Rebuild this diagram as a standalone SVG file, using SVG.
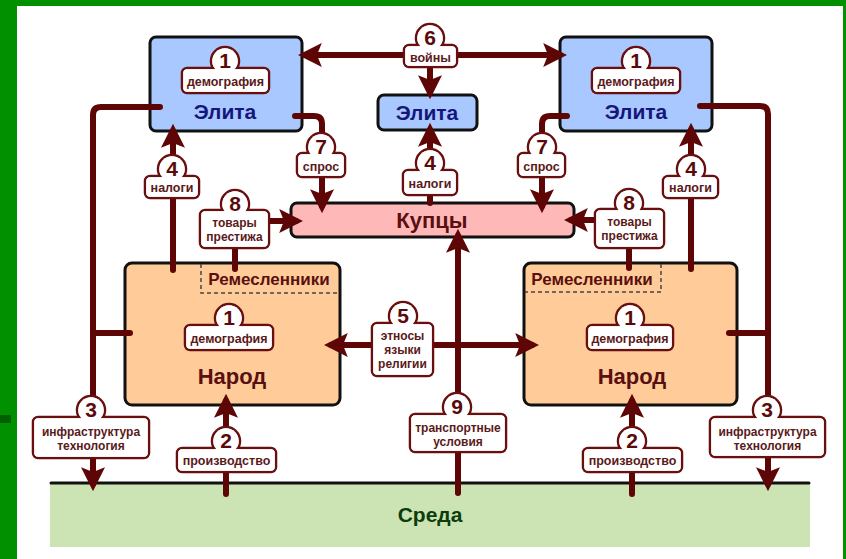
<svg xmlns="http://www.w3.org/2000/svg" width="846" height="559" viewBox="0 0 846 559">
<defs>
<style>
.box{stroke:#111;stroke-width:3}
.elite{fill:#a8c8ff}
.kup{fill:#ffb8b8}
.nar{fill:#ffcc99}
.ttl{font-family:"Liberation Sans",Arial,sans-serif;font-weight:bold;text-anchor:middle}
.te{fill:#15157a;font-size:21px}
.tm{fill:#5a1010;font-size:22px}
.tr{fill:#5a1010;font-size:17px}
.ts{fill:#0d3d0d;font-size:21px}
.dash{fill:none;stroke:#444;stroke-width:1.5;stroke-dasharray:4 3}
.con{fill:none;stroke:#5e0505;stroke-width:6;stroke-linecap:round;stroke-linejoin:round}
.bo{fill:#fff;stroke:#6a0f0f;stroke-width:2.5}
.bf{fill:#fff;stroke:none}
.num{font-family:"Liberation Sans",Arial,sans-serif;font-weight:bold;font-size:21px;fill:#5a0a0a;text-anchor:middle}
.lbl{font-family:"Liberation Sans",Arial,sans-serif;font-weight:bold;font-size:12.5px;fill:#5a1a1a;text-anchor:middle}
.lb2{font-family:"Liberation Sans",Arial,sans-serif;font-weight:bold;font-size:12px;fill:#5a1a1a;text-anchor:middle}
</style>
<marker id="ah" markerUnits="userSpaceOnUse" markerWidth="24" markerHeight="24" viewBox="0 0 20 20" refX="14" refY="10" orient="auto-start-reverse">
<path d="M0,0 L20,10 L0,20 L4,10 z" fill="#5e0505"/>
</marker>
</defs>
<rect x="0" y="0" width="846" height="559" fill="#009000"/>
<rect x="17" y="6" width="826" height="553" fill="#fff"/>
<rect x="0" y="415" width="11" height="8" fill="#006000"/>

<g id="sreda">
<rect x="50" y="484" width="760" height="63" fill="#cce3b3"/>
<line x1="51" y1="483" x2="809" y2="483" stroke="#111" stroke-width="3" stroke-linecap="round"/>
<text class="ttl ts" x="430" y="522">Среда</text>
</g>

<g id="elite-left">
<rect class="box elite" x="150" y="37" width="152" height="94" rx="6"/>
<text class="ttl te" x="225" y="119">Элита</text>
</g>
<g id="elite-center">
<rect class="box elite" x="378" y="95" width="99" height="35" rx="6"/>
<text class="ttl te" x="427" y="120">Элита</text>
</g>
<g id="elite-right">
<rect class="box elite" x="560" y="37" width="152" height="94" rx="6"/>
<text class="ttl te" x="636" y="119">Элита</text>
</g>
<g id="kupcy">
<rect class="box kup" x="291" y="203" width="283" height="34" rx="6"/>
<text class="ttl tm" x="432" y="228">Купцы</text>
</g>
<g id="narod-left">
<rect class="box nar" x="125" y="263" width="215" height="142" rx="7"/>
<path class="dash" d="M201,264 V293 H339"/>
<text class="ttl tr" x="269" y="285">Ремесленники</text>
<text class="ttl tm" x="232" y="384">Народ</text>
</g>
<g id="narod-right">
<rect class="box nar" x="524" y="263" width="213" height="142" rx="7"/>
<path class="dash" d="M661,264 V292 H525"/>
<text class="ttl tr" x="592" y="285">Ремесленники</text>
<text class="ttl tm" x="632" y="384">Народ</text>
</g>

<g id="connectors">
<path class="con" d="M305,55 H560" marker-start="url(#ah)" marker-end="url(#ah)"/>
<path class="con" d="M430,67 V92" marker-end="url(#ah)"/>
<path class="con" d="M430,203 V130" marker-end="url(#ah)"/>
<path class="con" d="M295,116 H314 Q322,116 322,124 V206" marker-end="url(#ah)"/>
<path class="con" d="M567,116 H550 Q542,116 542,124 V206" marker-end="url(#ah)"/>
<path class="con" d="M173,270 V131" marker-end="url(#ah)"/>
<path class="con" d="M691,269 V130" marker-end="url(#ah)"/>
<path class="con" d="M160,107 H101 Q93,107 93,115 V484" marker-end="url(#ah)"/>
<path class="con" d="M93,333 H130"/>
<path class="con" d="M700,106 H760 Q768,106 768,114 V484" marker-end="url(#ah)"/>
<path class="con" d="M729,333 H768"/>
<path class="con" d="M235,269 V240"/>
<path class="con" d="M265,221 H296" marker-end="url(#ah)"/>
<path class="con" d="M629,268 V240"/>
<path class="con" d="M600,220 H571" marker-end="url(#ah)"/>
<path class="con" d="M331,345 H532" marker-start="url(#ah)" marker-end="url(#ah)"/>
<path class="con" d="M458,493 V236" marker-end="url(#ah)"/>
<path class="con" d="M226,494 V401" marker-end="url(#ah)"/>
<path class="con" d="M632,494 V401" marker-end="url(#ah)"/>
</g>

<g id="badges">
<g id="b1-el"><circle class="bo" cx="225" cy="61" r="14"/><rect class="bo" x="182" y="68" width="87" height="25" rx="5"/><circle class="bf" cx="225" cy="61" r="12.7"/><rect class="bf" x="183.3" y="69.3" width="84.4" height="22.4" rx="4"/><text class="num" x="225" y="68">1</text><text class="lbl" x="225.5" y="85.5">демография</text></g>
<g id="b1-er"><circle class="bo" cx="636" cy="61" r="14"/><rect class="bo" x="592" y="68" width="88" height="25" rx="5"/><circle class="bf" cx="636" cy="61" r="12.7"/><rect class="bf" x="593.3" y="69.3" width="85.4" height="22.4" rx="4"/><text class="num" x="636" y="68">1</text><text class="lbl" x="636" y="85.5">демография</text></g>
<g id="b6"><circle class="bo" cx="430" cy="38" r="14"/><rect class="bo" x="404" y="45" width="53" height="22" rx="5"/><circle class="bf" cx="430" cy="38" r="12.7"/><rect class="bf" x="405.3" y="46.3" width="50.4" height="19.4" rx="4"/><text class="num" x="430" y="45">6</text><text class="lbl" x="430.5" y="61.5">войны</text></g>
<g id="b4-c"><circle class="bo" cx="430" cy="163" r="14"/><rect class="bo" x="403" y="170" width="54" height="25" rx="5"/><circle class="bf" cx="430" cy="163" r="12.7"/><rect class="bf" x="404.3" y="171.3" width="51.4" height="22.4" rx="4"/><text class="num" x="430" y="170">4</text><text class="lbl" x="430" y="187.5">налоги</text></g>
<g id="b7-l"><circle class="bo" cx="321" cy="147" r="14"/><rect class="bo" x="297" y="153" width="48" height="24" rx="5"/><circle class="bf" cx="321" cy="147" r="12.7"/><rect class="bf" x="298.3" y="154.3" width="45.4" height="21.4" rx="4"/><text class="num" x="321" y="154">7</text><text class="lbl" x="321" y="170.5">спрос</text></g>
<g id="b7-r"><circle class="bo" cx="542" cy="147" r="14"/><rect class="bo" x="518" y="153" width="47" height="24" rx="5"/><circle class="bf" cx="542" cy="147" r="12.7"/><rect class="bf" x="519.3" y="154.3" width="44.4" height="21.4" rx="4"/><text class="num" x="542" y="154">7</text><text class="lbl" x="541.5" y="170.5">спрос</text></g>
<g id="b4-l"><circle class="bo" cx="172" cy="169" r="14"/><rect class="bo" x="145" y="176" width="54" height="22" rx="5"/><circle class="bf" cx="172" cy="169" r="12.7"/><rect class="bf" x="146.3" y="177.3" width="51.4" height="19.4" rx="4"/><text class="num" x="172" y="176">4</text><text class="lbl" x="172" y="192">налоги</text></g>
<g id="b4-r"><circle class="bo" cx="691" cy="169" r="14"/><rect class="bo" x="663" y="176" width="55" height="22" rx="5"/><circle class="bf" cx="691" cy="169" r="12.7"/><rect class="bf" x="664.3" y="177.3" width="52.4" height="19.4" rx="4"/><text class="num" x="691" y="176">4</text><text class="lbl" x="690.5" y="192">налоги</text></g>
<g id="b8-l"><circle class="bo" cx="235" cy="204" r="14"/><rect class="bo" x="200" y="210" width="69" height="38" rx="5"/><circle class="bf" cx="235" cy="204" r="12.7"/><rect class="bf" x="201.3" y="211.3" width="66.4" height="35.4" rx="4"/><text class="num" x="235" y="211">8</text><text class="lb2" x="234.5" y="227">товары</text><text class="lb2" x="234.5" y="241">престижа</text></g>
<g id="b8-r"><circle class="bo" cx="629" cy="203" r="14"/><rect class="bo" x="595" y="209" width="69" height="39" rx="5"/><circle class="bf" cx="629" cy="203" r="12.7"/><rect class="bf" x="596.3" y="210.3" width="66.4" height="36.4" rx="4"/><text class="num" x="629" y="210">8</text><text class="lb2" x="629.5" y="226">товары</text><text class="lb2" x="629.5" y="240">престижа</text></g>
<g id="b1-nl"><circle class="bo" cx="229" cy="318" r="14"/><rect class="bo" x="185" y="325" width="88" height="25" rx="5"/><circle class="bf" cx="229" cy="318" r="12.7"/><rect class="bf" x="186.3" y="326.3" width="85.4" height="22.4" rx="4"/><text class="num" x="229" y="325">1</text><text class="lbl" x="229" y="342.5">демография</text></g>
<g id="b1-nr"><circle class="bo" cx="630" cy="318" r="14"/><rect class="bo" x="587" y="325" width="86" height="25" rx="5"/><circle class="bf" cx="630" cy="318" r="12.7"/><rect class="bf" x="588.3" y="326.3" width="83.4" height="22.4" rx="4"/><text class="num" x="630" y="325">1</text><text class="lbl" x="630" y="342.5">демография</text></g>
<g id="b5"><circle class="bo" cx="403" cy="316" r="14"/><rect class="bo" x="372" y="323" width="61" height="53" rx="5"/><circle class="bf" cx="403" cy="316" r="12.7"/><rect class="bf" x="373.3" y="324.3" width="58.4" height="50.4" rx="4"/><text class="num" x="403" y="323">5</text><text class="lb2" x="402.5" y="340">этносы</text><text class="lb2" x="402.5" y="354">языки</text><text class="lb2" x="402.5" y="368">религии</text></g>
<g id="b9"><circle class="bo" cx="457" cy="407" r="14"/><rect class="bo" x="410" y="414" width="96" height="38" rx="5"/><circle class="bf" cx="457" cy="407" r="12.7"/><rect class="bf" x="411.3" y="415.3" width="93.4" height="35.4" rx="4"/><text class="num" x="457" y="414">9</text><text class="lb2" x="458" y="432">транспортные</text><text class="lb2" x="458" y="446">условия</text></g>
<g id="b3-l"><circle class="bo" cx="91" cy="410" r="14"/><rect class="bo" x="33" y="417" width="116" height="41" rx="5"/><circle class="bf" cx="91" cy="410" r="12.7"/><rect class="bf" x="34.3" y="418.3" width="113.4" height="38.4" rx="4"/><text class="num" x="91" y="417">3</text><text class="lb2" x="91" y="436">инфраструктура</text><text class="lb2" x="91" y="450">технология</text></g>
<g id="b3-r"><circle class="bo" cx="767" cy="410" r="14"/><rect class="bo" x="710" y="417" width="115" height="40" rx="5"/><circle class="bf" cx="767" cy="410" r="12.7"/><rect class="bf" x="711.3" y="418.3" width="112.4" height="37.4" rx="4"/><text class="num" x="767" y="417">3</text><text class="lb2" x="767.5" y="436">инфраструктура</text><text class="lb2" x="767.5" y="450">технология</text></g>
<g id="b2-l"><circle class="bo" cx="226" cy="441" r="14"/><rect class="bo" x="177" y="448" width="99" height="24" rx="5"/><circle class="bf" cx="226" cy="441" r="12.7"/><rect class="bf" x="178.3" y="449.3" width="96.4" height="21.4" rx="4"/><text class="num" x="226" y="448">2</text><text class="lbl" x="226.5" y="464.5">производство</text></g>
<g id="b2-r"><circle class="bo" cx="632" cy="441" r="14"/><rect class="bo" x="583" y="448" width="99" height="24" rx="5"/><circle class="bf" cx="632" cy="441" r="12.7"/><rect class="bf" x="584.3" y="449.3" width="96.4" height="21.4" rx="4"/><text class="num" x="632" y="448">2</text><text class="lbl" x="632.5" y="464.5">производство</text></g>
</g>
</svg>
